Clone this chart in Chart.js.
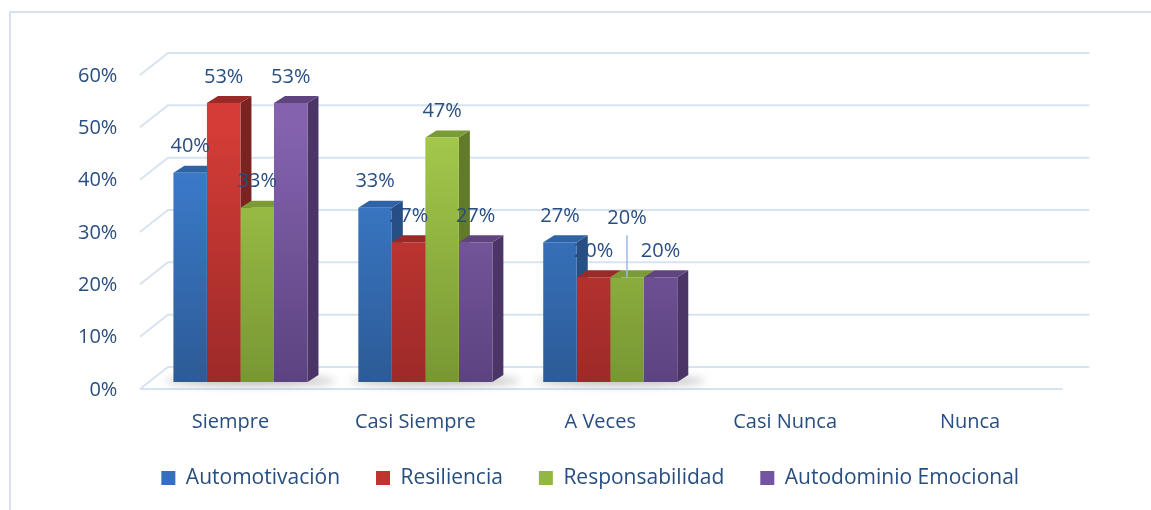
<!DOCTYPE html>
<html>
<head>
<meta charset="utf-8">
<script src="https://cdn.jsdelivr.net/npm/chart.js@4.4.1/dist/chart.umd.min.js"></script>
<style>
  html, body { margin: 0; padding: 0; background: #fff; }
  #wrap { position: relative; width: 1151px; height: 510px; overflow: hidden; }
  #frame { position: absolute; left: 9px; top: 11px; width: 1300px; height: 600px;
           border-top: 2px solid #d6e0ef; border-left: 2px solid #d6e0ef; }
  canvas { position: absolute; left: 0; top: 0; }
</style>
</head>
<body>
<div id="wrap">
  <div id="frame"></div>
  <canvas id="chartCanvas" width="1151" height="510"></canvas>
</div>
<script>
// Chart data
const categories = ['Siempre', 'Casi Siempre', 'A Veces', 'Casi Nunca', 'Nunca'];
const seriesNames = ['Automotivación', 'Resiliencia', 'Responsabilidad', 'Autodominio Emocional'];
const automotivacion = [0.400, 0.333, 0.267, null, null];
const resiliencia = [0.533, 0.267, 0.200, null, null];
const responsabilidad = [0.333, 0.467, 0.200, null, null];
const autodominio = [0.533, 0.267, 0.200, null, null];
const yTicks = [0, 0.1, 0.2, 0.3, 0.4, 0.5, 0.6];

const TEXT = '#284e80';
const FONT = '"Open Sans", sans-serif';
const DX = 11, DY = -7;   // depth of the 3D bars

const palette = [
    { light: '#3e80d4', dark: '#2c5b96', side: '#284f85', top: '#2f63a6', box: '#3470bd' },
    { light: '#d43c37', dark: '#9c2a28', side: '#7c2220', top: '#9a2a27', box: '#c0332f' },
    { light: '#a5c94c', dark: '#789733', side: '#617b2a', top: '#7b9b37', box: '#93b842' },
    { light: '#8462ae', dark: '#5c4380', side: '#4a3566', top: '#5f447f', box: '#7354a0' }
];

function barGradient(i) {
    return (ctx) => {
        const ca = ctx.chart.chartArea;
        if (!ca) return palette[i].box;
        const g = ctx.chart.ctx.createLinearGradient(0, ca.top + 60, 0, ca.bottom);
        g.addColorStop(0, palette[i].light);
        g.addColorStop(1, palette[i].dark);
        return g;
    };
}

function poly(ctx, pts) {
    ctx.beginPath();
    ctx.moveTo(pts[0][0], pts[0][1]);
    for (let k = 1; k < pts.length; k++) ctx.lineTo(pts[k][0], pts[k][1]);
    ctx.closePath();
    ctx.fill();
}

// back wall, floor, shadows and the side/top faces of each bar
const bars3d = {
    id: 'bars3d',
    beforeDatasetsDraw(chart) {
        const { ctx, chartArea, scales: { y } } = chart;
        ctx.save();
        ctx.strokeStyle = '#d8e3f2';
        ctx.lineWidth = 2;
        yTicks.forEach(v => {
            const by = y.getPixelForValue(v) - 15;
            ctx.beginPath();
            ctx.moveTo(chartArea.left - 8, by + 22);
            ctx.lineTo(chartArea.left + 20, by);
            ctx.lineTo(chartArea.right + 17, by);
            ctx.stroke();
        });
        const fy = y.getPixelForValue(0) + 7;
        ctx.beginPath();
        ctx.moveTo(chartArea.left - 8, fy);
        ctx.lineTo(chartArea.right - 10, fy);
        ctx.stroke();

        // soft shadow on the floor under each group
        const metas = chart.data.datasets.map((d, i) => chart.getDatasetMeta(i));
        categories.forEach((c, j) => {
            const bars = metas.filter((m, i) => chart.data.datasets[i].data[j] != null).map(m => m.data[j]);
            if (!bars.length) return;
            const l = bars[0].x - bars[0].width / 2;
            const r = bars[bars.length - 1].x + bars[bars.length - 1].width / 2;
            const base = bars[0].base;
            ctx.filter = 'blur(4px)';
            ctx.fillStyle = 'rgba(60,60,60,0.4)';
            ctx.beginPath();
            ctx.ellipse((l + r) / 2 + 10, base - 1, (r - l) / 2 + 18, 4, 0, 0, Math.PI * 2);
            ctx.fill();
            ctx.filter = 'none';
        });

        chart.data.datasets.forEach((ds, i) => {
            metas[i].data.forEach((bar, j) => {
                if (ds.data[j] == null) return;
                const { x, y: top, base, width } = bar.getProps(['x', 'y', 'base', 'width'], true);
                const l = x - width / 2, r = x + width / 2;
                ctx.fillStyle = palette[i].side;
                poly(ctx, [[r, top], [r + DX, top + DY], [r + DX, base + DY], [r, base]]);
                ctx.fillStyle = palette[i].top;
                poly(ctx, [[l, top], [l + DX, top + DY], [r + DX, top + DY], [r, top]]);
            });
        });
        ctx.restore();
    },
    afterDatasetsDraw(chart) {
        const { ctx } = chart;
        ctx.save();
        ctx.font = '20px ' + FONT;
        ctx.fillStyle = TEXT;
        ctx.textAlign = 'center';
        ctx.textBaseline = 'middle';
        chart.data.datasets.forEach((ds, i) => {
            chart.getDatasetMeta(i).data.forEach((bar, j) => {
                const v = ds.data[j];
                if (v == null) return;
                let ly = bar.y - 26;
                // this label sits higher, with a leader line down to its bar
                if (i === 2 && j === 2) {
                    ly -= 33;
                    ctx.strokeStyle = '#9fbbe2';
                    ctx.lineWidth = 1.5;
                    ctx.beginPath();
                    ctx.moveTo(bar.x, ly + 17);
                    ctx.lineTo(bar.x, bar.y);
                    ctx.stroke();
                }
                ctx.fillText(Math.round(v * 100) + '%', bar.x, ly);
            });
        });
        ctx.restore();
    }
};

const seriesData = [automotivacion, resiliencia, responsabilidad, autodominio];

const chart = new Chart(document.getElementById('chartCanvas').getContext('2d'), {
    type: 'bar',
    data: {
        labels: categories,
        datasets: seriesData.map((d, i) => ({
            label: seriesNames[i],
            data: d,
            backgroundColor: barGradient(i),
            borderWidth: 0,
            categoryPercentage: 0.725,
            barPercentage: 1
        }))
    },
    options: {
        responsive: false,
        animation: false,
        layout: { padding: { left: 108, right: 78.5, top: 68, bottom: 11.5 } },
        scales: {
            x: {
                grid: { display: false, drawTicks: false },
                border: { display: false },
                ticks: { color: TEXT, font: { family: FONT, size: 20 }, padding: 28, labelOffset: -10 },
                afterFit: (s) => { s.height = 49.5; }
            },
            y: {
                min: 0,
                max: 0.6,
                grid: { display: false, drawTicks: false },
                border: { display: false },
                ticks: {
                    stepSize: 0.1,
                    color: TEXT,
                    font: { family: FONT, size: 20 },
                    mirror: true,
                    crossAlign: 'far',
                    padding: -70,
                    labelOffset: 8,
                    callback: (v) => Math.round(v * 100) + '%'
                },
                afterFit: (s) => { s.width = 40; }
            }
        },
        plugins: {
            tooltip: { enabled: false },
            legend: {
                position: 'bottom',
                labels: {
                    color: TEXT,
                    font: { family: FONT, size: 21 },
                    boxWidth: 14,
                    boxHeight: 14,
                    padding: 36,
                    generateLabels: (c) => Chart.defaults.plugins.legend.labels.generateLabels(c).map(item => {
                        item.fillStyle = palette[item.datasetIndex].box;
                        item.strokeStyle = palette[item.datasetIndex].box;
                        item.lineWidth = 0;
                        return item;
                    })
                }
            }
        }
    },
    plugins: [bars3d]
});
</script>
</body>
</html>
